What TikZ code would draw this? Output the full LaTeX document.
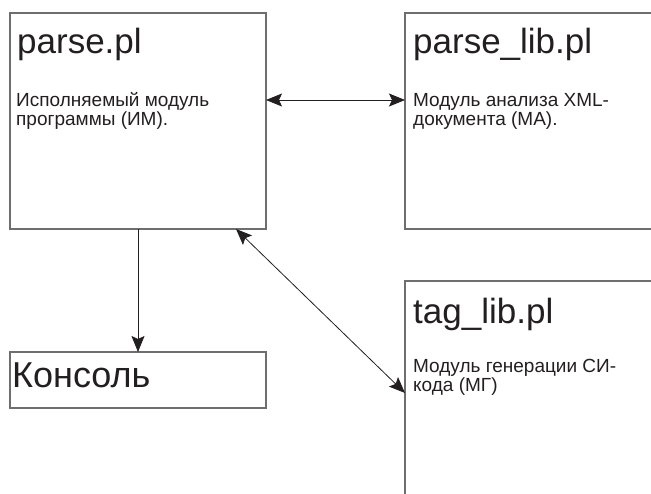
\documentclass[tikz,border=0pt]{standalone}
\usepackage{fontspec}
\setmainfont{Liberation Sans}
\usetikzlibrary{arrows.meta}
\definecolor{boxline}{HTML}{6E6E6E}
\definecolor{ink}{HTML}{231F20}
\begin{document}
\begin{tikzpicture}[x=1pt,y=-1pt,
  modbox/.style={draw=boxline,line width=1.1pt,anchor=north west,inner sep=0pt,outer sep=0pt},
  titletext/.style={anchor=base west,inner sep=0pt,font=\fontsize{35}{40}\selectfont,text=ink},
  desctext/.style={anchor=base west,inner sep=0pt,font=\fontsize{19}{19}\selectfont,text=ink},
  conn/.style={draw=ink,line width=0.8pt},
  headtip/.style={-{Stealth[length=16pt,width=13pt,inset=3pt]}},
  bothtip/.style={{Stealth[length=16pt,width=13pt,inset=3pt]}-{Stealth[length=16pt,width=13pt,inset=3pt]}}]
\useasboundingbox (0,0) rectangle (651,493);
\fill[white] (0,0) rectangle (651,493);
\clip (0,0) rectangle (651,493);
% boxes
\node[modbox,minimum width=256pt,minimum height=216pt] (parse) at (10,13) {};
\node[modbox,minimum width=262pt,minimum height=216pt] (plib) at (405,13) {};
\node[modbox,minimum width=256pt,minimum height=56pt] (console) at (10,352) {};
\node[modbox,minimum width=262pt,minimum height=230pt] (tlib) at (405,281) {};
% texts
\node[titletext] (parseT) at (17,53) {parse.pl};
\node[desctext] (parseA) at (16,106) {Исполняемый модуль};
\node[desctext] (parseB) at (16,125) {программы (ИМ).};
\node[titletext] (plibT) at (413,53) {parse\_lib.pl};
\node[desctext] (plibA) at (413,106) {Модуль анализа XML-};
\node[desctext] (plibB) at (413,125) {документа (МА).};
\node[titletext] (tlibT) at (413,323) {tag\_lib.pl};
\node[desctext] (tlibA) at (413,372) {Модуль генерации СИ-};
\node[desctext] (tlibB) at (413,391) {кода (МГ)};
\node[titletext,font=\fontsize{36}{40}\selectfont] (consoleT) at (12,387) {Консоль};
% connectors
\draw[conn,bothtip] ([yshift=-87pt]parse.north east) -- ([yshift=-87pt]plib.north west);
\draw[conn,headtip] (parse.south) -- (console.north);
\draw[conn,bothtip] ([xshift=-30pt]parse.south east) -- ([yshift=-112pt]tlib.north west);
\end{tikzpicture}
\end{document}
